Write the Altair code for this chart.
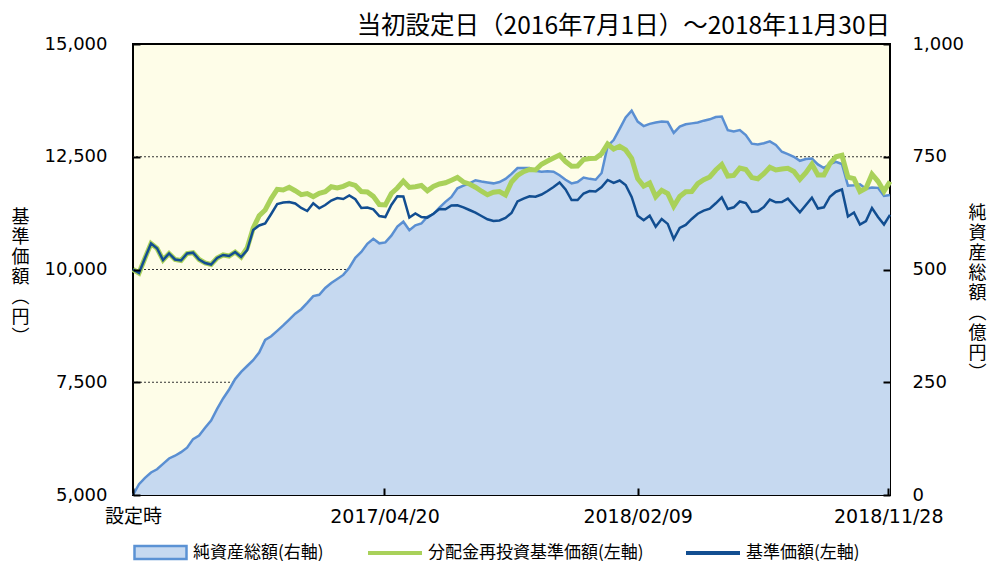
import altair as alt
import pandas as pd

# weekly sampling from the initial setting date (2016-07-01) to 2018-11-30
dates = pd.date_range("2016-07-01", periods=127, freq="7D")

# 基準価額 (円)
nav = [
    10000, 9922, 10255, 10577, 10470, 10211, 10355, 10222, 10200, 10355,
    10373, 10222, 10144, 10111, 10255, 10322, 10299, 10388, 10277, 10432,
    10876, 10976, 11020, 11231, 11452, 11486, 11497, 11463, 11364, 11297,
    11468, 11357, 11430, 11530, 11585, 11563, 11641, 11557, 11364, 11375,
    11335, 11186, 11164, 11430, 11623, 11619, 11153, 11242, 11164, 11151,
    11237, 11342, 11335, 11419, 11424, 11379, 11319, 11259, 11186, 11113,
    11075, 11087, 11142, 11253, 11508, 11570, 11623, 11614, 11663, 11741,
    11829, 11929, 11774, 11541, 11541, 11685, 11741, 11730, 11829, 11985,
    11922, 11973, 11874, 11608, 11193, 11091, 11193, 10949, 11120, 11011,
    10676, 10920, 10987, 11120, 11237, 11304, 11350, 11468, 11599, 11342,
    11379, 11508, 11475, 11275, 11291, 11386, 11552, 11490, 11497, 11572,
    11419, 11266, 11430, 11592, 11353, 11379, 11614, 11725, 11774, 11175,
    11264, 10996, 11075, 11364, 11164, 10998, 11210,
]

# 分配金再投資基準価額 (円)
nav_reinv = [
    10000, 9922, 10255, 10577, 10470, 10211, 10355, 10222, 10200, 10355,
    10373, 10222, 10144, 10111, 10255, 10322, 10299, 10388, 10277, 10477,
    10914, 11193, 11319, 11574, 11778, 11763, 11823, 11747, 11659, 11683,
    11614, 11690, 11725, 11834, 11807, 11845, 11905, 11863, 11730, 11718,
    11621, 11439, 11430, 11685, 11807, 11958, 11820, 11836, 11863, 11745,
    11843, 11896, 11922, 11980, 12040, 11940, 11896, 11825, 11736, 11656,
    11712, 11730, 11652, 11940, 12084, 12169, 12217, 12206, 12333, 12406,
    12472, 12539, 12393, 12291, 12295, 12439, 12463, 12465, 12568, 12783,
    12672, 12732, 12650, 12466, 12018, 11849, 11918, 11614, 11756, 11685,
    11401, 11619, 11725, 11727, 11903, 11991, 12051, 12206, 12328, 12073,
    12087, 12251, 12217, 12038, 12013, 12126, 12268, 12206, 12228, 12244,
    12173, 12000, 12146, 12333, 12095, 12095, 12346, 12501, 12532, 12047,
    12016, 11730, 11800, 12113, 11956, 11734, 11951,
]

# 純資産総額 (億円)
assets = [
    0, 24, 38, 50, 57, 69, 81, 87, 95, 105,
    124, 132, 149, 165, 191, 214, 234, 257, 273, 286,
    299, 316, 344, 352, 364, 376, 389, 402, 412, 426,
    441, 444, 459, 470, 479, 488, 504, 526, 539, 557,
    568, 558, 560, 575, 595, 606, 587, 598, 602, 617,
    623, 637, 650, 661, 680, 686, 691, 698, 695, 693,
    691, 694, 701, 712, 725, 725, 725, 719, 717, 718,
    717, 709, 699, 691, 694, 704, 701, 699, 714, 774,
    787, 812, 837, 852, 828, 818, 823, 826, 828, 827,
    803, 817, 822, 824, 826, 830, 833, 838, 839, 809,
    806, 809, 798, 779, 777, 780, 784, 776, 761, 756,
    750, 741, 745, 746, 733, 725, 734, 739, 734, 686,
    687, 689, 679, 682, 681, 663, 665,
]

NAME_ASSETS = "純資産総額(右軸)"
NAME_REINV = "分配金再投資基準価額(左軸)"
NAME_NAV = "基準価額(左軸)"
TITLE = "当初設定日（2016年7月1日）～2018年11月30日"

grid_values = [7500, 10000, 12500]
left_ticks = [5000, 7500, 10000, 12500, 15000]
right_ticks = [0, 250, 500, 750, 1000]
x_tick_dates = [(2016, 7, 1), (2017, 4, 20), (2018, 2, 9), (2018, 11, 28)]

CJK = "Noto Sans CJK JP"
NUM = "DejaVu Sans, Noto Sans CJK JP"

area_df = pd.DataFrame({"date": dates, "assets": assets, "s": NAME_ASSETS})
reinv_df = pd.DataFrame({"date": dates, "value": nav_reinv, "series": NAME_REINV})
nav_df = pd.DataFrame({"date": dates, "value": nav, "series": NAME_NAV})
grid_df = pd.DataFrame({"v": grid_values})

x_axis = alt.Axis(
    values=[alt.DateTime(year=y, month=m, date=d) for (y, m, d) in x_tick_dates],
    labelExpr="timeFormat(datum.value, '%Y/%m/%d') == '2016/07/01' ? '設定時' : timeFormat(datum.value, '%Y/%m/%d')",
    title=None, labelFont=NUM, labelFontSize=19, labelColor="black",
    labelPadding=12, labelFlush=False, labelOverlap=False,
    tickSize=7, tickWidth=2, tickColor="black", offset=-7,
    domain=False, grid=False, zindex=1,
)
x_enc = alt.X(
    "date:T",
    scale=alt.Scale(domain=[alt.DateTime(year=2016, month=7, date=1),
                            alt.DateTime(year=2018, month=11, date=30)], nice=False),
    axis=x_axis,
)

right_axis = alt.Axis(
    orient="right", values=right_ticks, format=",d",
    labelFont=NUM, labelFontSize=18, labelColor="black", labelPadding=22,
    tickSize=7, tickWidth=2, tickColor="black", offset=-7,
    domain=False, grid=False, zindex=1,
    title=["純", "資", "産", "総", "額", "︵", "億", "円", "︶"],
    titleAngle=0, titleFont=CJK, titleFontSize=18, titleFontWeight="normal",
    titleColor="black", titleLineHeight=20, titleX=94, titleY=160,
    titleAlign="center", titleBaseline="top",
)
left_axis = alt.Axis(
    orient="left", values=left_ticks, format=",d",
    labelFont=NUM, labelFontSize=18, labelColor="black", labelPadding=26,
    tickSize=7, tickWidth=2, tickColor="black", offset=-7,
    domain=False, grid=False, zindex=1,
    title=["基", "準", "価", "額", "︵", "円", "︶"],
    titleAngle=0, titleFont=CJK, titleFontSize=18, titleFontWeight="normal",
    titleColor="black", titleLineHeight=20, titleX=-120, titleY=164,
    titleAlign="center", titleBaseline="top",
)

y_right = alt.Y("assets:Q", scale=alt.Scale(domain=[0, 1000]), axis=right_axis)
y_left = alt.Y("value:Q", scale=alt.Scale(domain=[5000, 15000]), axis=left_axis)

grid = alt.Chart(grid_df).mark_rule(color="#333333", strokeDash=[2, 2], strokeWidth=1).encode(
    y=alt.Y("v:Q", scale=alt.Scale(domain=[5000, 15000]), axis=None)
)

area = alt.Chart(area_df).mark_area(opacity=1).encode(
    x=x_enc,
    y=y_right,
    fill=alt.Fill(
        "s:N",
        scale=alt.Scale(domain=[NAME_ASSETS], range=["#C6D9F0"]),
        legend=alt.Legend(
            title=None, orient="none", legendX=0, legendY=481,
            symbolType="M-1,-0.25H1V0.25H-1Z", symbolSize=2704,
            symbolStrokeColor="#5B92D4", symbolStrokeWidth=2.5, symbolOpacity=1,
            labelFont=CJK, labelFontSize=17, labelColor="black",
            labelOffset=5, labelLimit=400,
        ),
    ),
)
area_line = alt.Chart(area_df).mark_line(color="#5A8FD2", strokeWidth=2.5).encode(
    x=x_enc, y=y_right
)

stroke_enc = alt.Stroke(
    "series:N",
    scale=alt.Scale(domain=[NAME_REINV, NAME_NAV], range=["#A9D15A", "#124E91"]),
    legend=alt.Legend(
        title=None, orient="none", direction="horizontal", legendX=233, legendY=480,
        symbolType="stroke", symbolSize=2916, symbolStrokeWidth=4,
        labelFont=CJK, labelFontSize=17, labelColor="black",
        labelOffset=4, columnPadding=34, labelLimit=400,
    ),
)
reinv_line = alt.Chart(reinv_df).mark_line(strokeWidth=5).encode(
    x=x_enc, y=y_left, stroke=stroke_enc
)
nav_line = alt.Chart(nav_df).mark_line(strokeWidth=2.5).encode(
    x=x_enc, y=y_left, stroke=stroke_enc
)

chart = (
    alt.layer(
        grid,
        alt.layer(area, area_line),
        alt.layer(reinv_line, nav_line),
    )
    .resolve_scale(y="independent")
    .properties(
        width=757, height=451,
        padding={"left": 125, "top": 36, "right": 98, "bottom": 66},
        autosize=alt.AutoSizeParams(type="none"),
        title=alt.TitleParams(
            text=TITLE, anchor="end", frame="group", font=CJK, fontSize=24.5,
            fontWeight="normal", color="black", offset=-4,
        ),
    )
    .configure(background="white")
    .configure_view(fill="#FEFDE8", stroke="black", strokeWidth=2)
)

chart.save("out.html", embed_options={"renderer": "svg", "actions": False})
